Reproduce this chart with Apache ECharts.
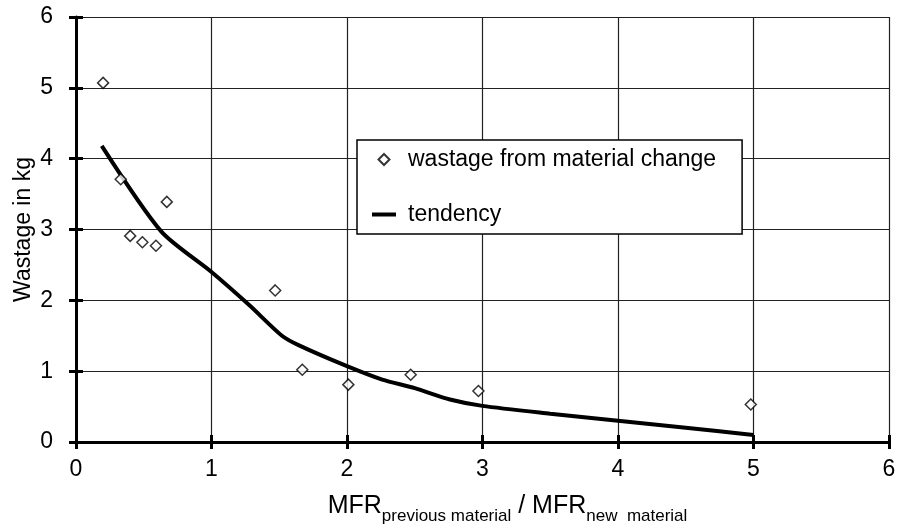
<!DOCTYPE html>
<html>
<head>
<meta charset="utf-8">
<script src="https://cdn.jsdelivr.net/npm/echarts@6/dist/echarts.min.js"></script>
<style>
  html, body { margin: 0; padding: 0; background: #fff; }
  #chart { width: 898px; height: 527px; }
</style>
</head>
<body>
<div id="chart"></div>
<script>
// measured points (MFR ratio, wastage kg)
const wastageX = [0.2, 0.33, 0.4, 0.49, 0.59, 0.67, 1.47, 1.67, 2.01, 2.47, 2.97, 4.98];
const wastageY = [5.07, 3.71, 2.91, 2.82, 2.77, 3.39, 2.14, 1.02, 0.81, 0.95, 0.72, 0.53];

// tendency curve
const trendX = [0.19, 0.63, 1.0, 1.28, 1.52, 1.65, 2.0, 2.26, 2.5, 2.76, 3.0, 3.5, 4.0, 4.5, 5.0];
const trendY = [4.18, 2.97, 2.4, 1.93, 1.5, 1.36, 1.07, 0.88, 0.76, 0.6, 0.51, 0.4, 0.3, 0.2, 0.1];

const font = 'Liberation Sans, Arial, sans-serif';

const chart = echarts.init(document.getElementById('chart'));

const tickIn = {
  type: 'value', min: 0, max: 6, interval: 1,
  axisLine: { show: false },
  axisTick: { show: true, inside: true, length: 7, lineStyle: { color: '#000', width: 3 } },
  axisLabel: { show: false },
  splitLine: { show: false }
};

chart.setOption({
  animation: false,
  textStyle: { fontFamily: font },
  grid: { left: 76, right: 9, top: 17, bottom: 85, containLabel: false, outerBoundsMode: 'none' },
  legend: {
    orient: 'vertical',
    left: 357,
    top: 140,
    padding: [8, 26, 8, 15],
    itemGap: 32,
    itemWidth: 24,
    itemHeight: 11,
    symbolKeepAspect: true,
    backgroundColor: '#fff',
    borderColor: '#000',
    borderWidth: 1.5,
    borderRadius: 0,
    textStyle: { fontSize: 23, color: '#000', fontFamily: font, padding: [0, 0, 0, 7] },
    data: [
      { name: 'wastage from material change', icon: 'path://M5,0L10,5L5,10L0,5Z' },
      { name: 'tendency', icon: 'path://M0,0L24,0L24,4L0,4Z', itemStyle: { color: '#000', borderWidth: 0 } }
    ]
  },
  xAxis: [{
    type: 'value', min: 0, max: 6, interval: 1,
    name: '{b|MFR}{s|previous material}{b| / MFR}{s|new  material}',
    nameLocation: 'middle',
    nameGap: 52,
    nameTextStyle: {
      padding: [0, 0, 0, 50],
      rich: {
        b: { fontSize: 25, color: '#000', fontFamily: font, verticalAlign: 'bottom' },
        s: { fontSize: 17, color: '#000', fontFamily: font, verticalAlign: 'bottom', padding: [0, 0, -6, 0] }
      }
    },
    axisLine: { onZero: false, lineStyle: { color: '#000', width: 3 } },
    axisTick: { length: 7, lineStyle: { color: '#000', width: 3 } },
    axisLabel: { fontSize: 23, color: '#000', margin: 16, fontFamily: font },
    splitLine: { lineStyle: { color: '#222', width: 1.2 } }
  }, Object.assign({ position: 'bottom', offset: 0 }, tickIn)],
  yAxis: [{
    type: 'value', min: 0, max: 6, interval: 1,
    name: 'Wastage in kg',
    nameLocation: 'middle',
    nameMoveOverlap: false,
    nameGap: 41,
    nameTextStyle: { fontSize: 23, color: '#000', fontFamily: font },
    axisLine: { onZero: false, lineStyle: { color: '#000', width: 3 } },
    axisTick: { length: 7, lineStyle: { color: '#000', width: 3 } },
    axisLabel: { fontSize: 23, color: '#000', margin: 23, fontFamily: font },
    splitLine: { lineStyle: { color: '#222', width: 1.2 } }
  }, Object.assign({ position: 'left', offset: 0 }, tickIn)],
  series: [{
    name: 'wastage from material change',
    type: 'scatter',
    symbol: 'diamond',
    symbolSize: 11,
    itemStyle: { color: '#fff', borderColor: '#000', borderWidth: 1.5 },
    data: wastageX.map((x, i) => [x, wastageY[i]]),
    z: 3
  }, {
    name: 'tendency',
    type: 'line',
    smooth: 0.25,
    symbol: 'none',
    lineStyle: { color: '#000', width: 4 },
    itemStyle: { color: '#000' },
    data: trendX.map((x, i) => [x, trendY[i]]),
    z: 2
  }]
});
</script>
</body>
</html>
